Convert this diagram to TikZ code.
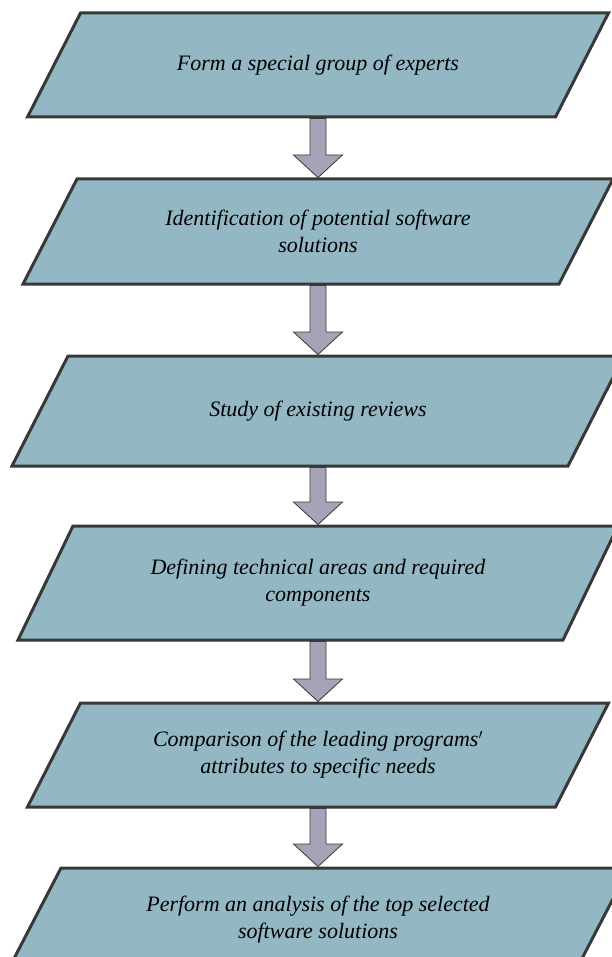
\documentclass[tikz,border=0pt]{standalone}
\usepackage{fontspec}
\setmainfont{Liberation Serif}
\usepackage{xcolor}
\usepackage{tikz}
\usetikzlibrary{positioning, calc, backgrounds}

\definecolor{stageFill}{HTML}{93B8C4}
\definecolor{stageLine}{HTML}{383838}
\definecolor{arrowFill}{HTML}{A5A3B8}

% block arrow from the bottom of one stage to the top of the next
\newcommand{\flowArrow}[2]{%
  \draw[flowarrow] ($(#1.south)+(-8pt,-1.5pt)$) -- ($(#2.north)+(-8pt,24pt)$)
    -- ($(#2.north)+(-24.5pt,24pt)$) -- ($(#2.north)+(0,1.5pt)$)
    -- ($(#2.north)+(24.5pt,24pt)$) -- ($(#2.north)+(8pt,24pt)$)
    -- ($(#1.south)+(8pt,-1.5pt)$) -- cycle;}

\begin{document}
\begin{tikzpicture}[node distance=60pt]
\tikzstyle{stage} = [rectangle, minimum height=104pt, inner sep=2pt, outer sep=0pt, text centered, align=center, font=\fontsize{22}{27}\selectfont\itshape]
\tikzstyle{stageshape} = [draw=stageLine, line width=3pt, fill=stageFill, line join=miter]
\tikzstyle{flowarrow} = [fill=arrowFill, draw=stageLine, line width=0.8pt, line join=miter]

\useasboundingbox (0,0) rectangle (612pt,-957pt);

\node (formGroup) [stage, minimum width=581pt] at (318pt,-65pt) {Form a special group of experts};
\node (identify) [stage, minimum width=590pt, minimum height=105pt, below=62pt of formGroup] {Identification of potential software\\solutions};
\node (studyReviews) [stage, minimum width=612pt, minimum height=110pt, below=72pt of identify] {Study of existing reviews};
\node (defineAreas) [stage, minimum width=600pt, minimum height=114pt, below=60pt of studyReviews] {Defining technical areas and required\\components};
\node (compare) [stage, minimum width=581pt, below=63pt of defineAreas] {Comparison of the leading programs$'$\\attributes to specific needs};
\node (analysis) [stage, minimum width=622pt, below=61pt of compare] {Perform an analysis of the top selected\\software solutions};

% parallelogram outlines behind the texts
\begin{scope}[on background layer]
\foreach \n/\s in {formGroup/53, identify/54, studyReviews/56, defineAreas/55, compare/53, analysis/54}
  \draw[stageshape] ($(\n.north west)+(\s pt,0)$) -- (\n.north east)
    -- ($(\n.south east)+(-\s pt,0)$) -- (\n.south west) -- cycle;
\end{scope}

\flowArrow{formGroup}{identify}
\flowArrow{identify}{studyReviews}
\flowArrow{studyReviews}{defineAreas}
\flowArrow{defineAreas}{compare}
\flowArrow{compare}{analysis}

\end{tikzpicture}
\end{document}
